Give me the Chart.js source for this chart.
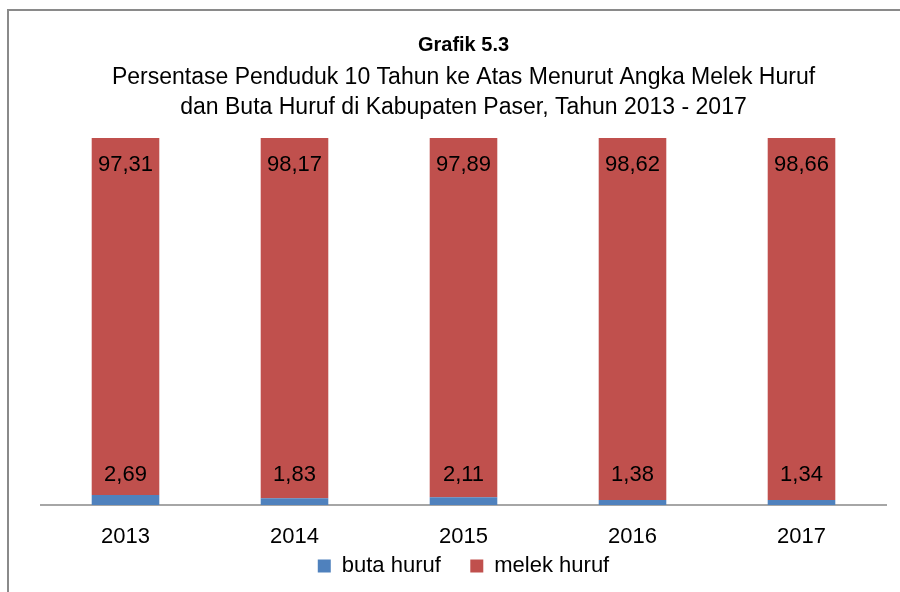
<!DOCTYPE html>
<html>
<head>
<meta charset="utf-8">
<script src="https://cdn.jsdelivr.net/npm/chart.js@4"></script>
<style>
  html, body { margin: 0; padding: 0; background: #fff; overflow: hidden; }
  #frame { position: absolute; left: 7px; top: 9px; width: 1000px; height: 700px; border: 2px solid #8a8a8a; }
  #wrap { position: absolute; left: 0; top: 0; width: 900px; height: 592px; }
</style>
</head>
<body>
<div id="frame"></div>
<div id="wrap"><canvas id="grafik" width="900" height="592"></canvas></div>
<script>
const tahun = ['2013', '2014', '2015', '2016', '2017'];
const butaHuruf = [2.69, 1.83, 2.11, 1.38, 1.34];
const melekHuruf = [97.31, 98.17, 97.89, 98.62, 98.66];

const FONT = "'Liberation Sans', Arial, sans-serif";

// label angka di dalam batang
const labelBatang = {
  id: 'labelBatang',
  afterDatasetsDraw(chart) {
    const ctx = chart.ctx;
    const y0 = chart.scales.y.getPixelForValue(0);
    ctx.save();
    ctx.font = '22px ' + FONT;
    ctx.fillStyle = '#000';
    ctx.textAlign = 'center';
    ctx.textBaseline = 'middle';
    chart.getDatasetMeta(0).data.forEach((bar, i) => {
      ctx.fillText(butaHuruf[i].toFixed(2).replace('.', ','), bar.x, y0 - 30);
    });
    chart.getDatasetMeta(1).data.forEach((bar, i) => {
      ctx.fillText(melekHuruf[i].toFixed(2).replace('.', ','), bar.x, bar.y + 27);
    });
    ctx.restore();
  }
};

new Chart(document.getElementById('grafik'), {
  type: 'bar',
  data: {
    labels: tahun,
    datasets: [
      { label: 'buta huruf', data: butaHuruf, backgroundColor: '#4F81BD' },
      { label: 'melek huruf', data: melekHuruf, backgroundColor: '#C0504D' }
    ]
  },
  plugins: [labelBatang],
  options: {
    responsive: false,
    animation: false,
    devicePixelRatio: 1,
    layout: { padding: { top: 25, left: 41, right: 14, bottom: 5 } },
    datasets: { bar: { barPercentage: 0.4, categoryPercentage: 1 } },
    scales: {
      x: {
        stacked: true,
        grid: { display: false, drawTicks: false },
        border: { display: true, color: '#a6a6a6', width: 2 },
        ticks: { color: '#000', padding: 19, font: { family: FONT, size: 22 } },
        afterFit(scale) { scale.height = 45; }
      },
      y: {
        stacked: true,
        display: false,
        min: 0,
        max: 100
      }
    },
    plugins: {
      title: {
        display: true,
        text: 'Grafik 5.3',
        color: '#000',
        font: { family: FONT, size: 20, weight: 'bold' },
        padding: { top: 8, bottom: 0 }
      },
      subtitle: {
        display: true,
        text: ['Persentase Penduduk 10 Tahun ke Atas Menurut Angka Melek Huruf', 'dan Buta Huruf di Kabupaten Paser, Tahun 2013 - 2017'],
        color: '#000',
        font: { family: FONT, size: 23, lineHeight: 1.28 },
        padding: { top: 6, bottom: 16 }
      },
      legend: {
        position: 'bottom',
        labels: {
          color: '#000',
          boxWidth: 13,
          boxHeight: 13,
          padding: 5,
          font: { family: FONT, size: 22 },
          generateLabels(chart) {
            const items = Chart.defaults.plugins.legend.labels.generateLabels(chart);
            items.forEach((it, i) => { if (i < items.length - 1) it.text += '    '; });
            return items;
          }
        }
      },
      tooltip: { enabled: false }
    }
  }
});
</script>
</body>
</html>
